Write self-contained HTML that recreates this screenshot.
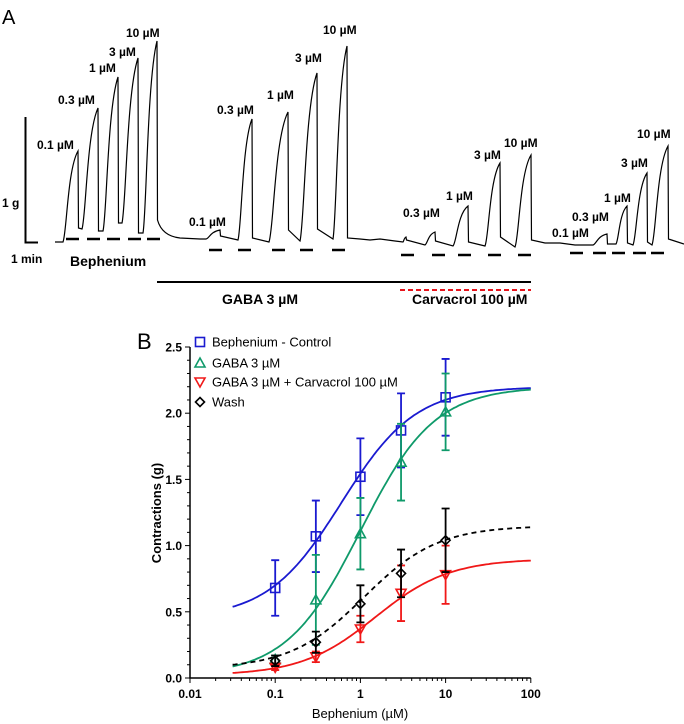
<!DOCTYPE html>
<html><head><meta charset="utf-8"><style>
body{margin:0;background:#fff}
svg{display:block;font-family:"Liberation Sans",Arial,sans-serif}
.lb{font-weight:bold;font-size:12px}
</style></head><body>
<svg id="fig" width="684" height="724" viewBox="0 0 684 724">
<g id="panelA">
<text x="2" y="24" font-size="20">A</text>
<path d="M25.5 117V242.5H38" stroke="#000" stroke-width="2" fill="none"/>
<text x="2" y="207" class="lb" font-size="13">1 g</text>
<text x="11" y="263" class="lb">1 min</text>
<text x="70" y="266" font-weight="bold" font-size="14">Bephenium</text>
<line x1="157" y1="282" x2="531" y2="282" stroke="#000" stroke-width="2"/>
<line x1="400" y1="290" x2="531" y2="290" stroke="#e8141c" stroke-width="2" stroke-dasharray="5,3"/>
<text x="222" y="304" font-weight="bold" font-size="14">GABA 3 µM</text>
<text x="412" y="304" font-weight="bold" font-size="14">Carvacrol 100 µM</text>
</g>
<g id="panelB">
<text x="137" y="349" font-size="22">B</text>
</g>
</svg>
<script>
const peakStartX=[63,82,103,122,143, 206,238,269,300,333, 403,425,453,485,515, 593,616,633,652];
const peakStartY=[242,229,231,223,233, 239,240,242,241,239, 242,245,246,246,247, 245,244,245,245];
const peakX=[78,98,118,138,157, 220,252,288,317,347, 406,435,468,500,531, 607,627,647,668];
const peakY=[151,108,77,58,41, 230,119,112,73,46, 237,232,206,163,155, 234,206,173,146];
const dropY=[228,231,223,233,220, 236,238,230,229,238, 240,241,242,237,240, 244,243,242,239];
const labelText=["0.1 µM","0.3 µM","1 µM","3 µM","10 µM","0.1 µM","0.3 µM","1 µM","3 µM","10 µM","0.3 µM","1 µM","3 µM","10 µM","0.1 µM","0.3 µM","1 µM","3 µM","10 µM"];
const labelX=[37,58,89,109,126, 189,217,267,295,323, 403,446,474,504, 552,572,604,621,637];
const labelY=[149,104,72,56,37, 226,114,99,62,34, 217,200,159,147, 237,221,202,167,138];
const dashX=[66,87,107,128,147, 209,238,272,300,332, 401,432,458,488,518, 570,593,612,633,651];
const dashY=[239,239,239,239,239, 250,250,250,250,250, 255,255,255,255,255, 253,253,253,253,253];
const NS="http://www.w3.org/2000/svg";
function mk(tag,attrs,parent){const e=document.createElementNS(NS,tag);for(const k in attrs)e.setAttribute(k,attrs[k]);parent.appendChild(e);return e;}
const A=document.getElementById('panelA');
let d="M55 242 L63 242";
for(let i=0;i<peakX.length;i++){
  const x0=peakStartX[i],y0=peakStartY[i],xp=peakX[i],yp=peakY[i],dx=xp-x0,dy=y0-yp;
  if(i>0){d+=` L${x0} ${y0}`;}
  d+=` C${x0+0.25*dx} ${y0-0.1*dy} ${x0+0.3*dx} ${yp+0.2*dy} ${xp} ${yp}`;
  d+=` L${xp+0.5} ${dropY[i]}`;
  if(i==4){d+=" Q162 236 180 238 L200 239";}
  if(i==9){d+=" L360 239 L370 240 L380 239 L395 241";}
  if(i==14){d+=" L545 243 L560 243 L575 245 L593 245";}
}
d+=" L684 244";
const tr=mk('path',{d:d,stroke:'#000','stroke-width':1.2,fill:'none'},A);


for(let i=0;i<labelText.length;i++){
  const t=mk('text',{x:labelX[i],y:labelY[i],class:'lb'},A);t.textContent=labelText[i];
  
  
}
for(let i=0;i<dashX.length;i++){
  const l=mk('line',{x1:dashX[i],x2:dashX[i]+13,y1:dashY[i],y2:dashY[i],stroke:'#000','stroke-width':2.5},A);
  
  
}
const conc=[0.1,0.3,1,3,10];
const ctrlMean=[0.68,1.07,1.52,1.87,2.12];
const ctrlErr=[0.21,0.27,0.29,0.28,0.29];
const gabaMean=[0.14,0.59,1.09,1.63,2.01];
const gabaErr=[0.03,0.34,0.27,0.29,0.29];
const carvMean=[0.08,0.16,0.37,0.64,0.78];
const carvErr=[0.02,0.04,0.10,0.21,0.22];
const washMean=[0.13,0.27,0.56,0.79,1.04];
const washErr=[0.04,0.08,0.14,0.18,0.24];
const fitCtrl=[0.45,2.2,0.6,1];
const fitGaba=[0.02,2.2,1.0,1];
const fitCarv=[0.02,0.9,1.5,1];
const fitWash=[0.07,1.15,1.1,1];
const xTicks=["0.01","0.1","1","10","100"];
const yTicks=["0.0","0.5","1.0","1.5","2.0","2.5"];
const X0=190,DEC=85.2,Y0=678,YS=132.4;
const xs=v=>X0+(Math.log10(v)+2)*DEC;
const ys=v=>Y0-v*YS;
const B=document.getElementById('panelB');
const ax=mk('path',{d:`M${X0} ${ys(2.5)}V${Y0}H${xs(100)}`,stroke:'#000','stroke-width':1.5,fill:'none'},B);


for(let k=0;k<=25;k++){
  const y=ys(k/10),maj=k%5==0;
  const tk=mk('line',{x1:X0-(maj?5:3),x2:X0,y1:y,y2:y,stroke:'#000','stroke-width':1},B);
  
  
}
yTicks.forEach((s,i)=>{const t=mk('text',{x:X0-8,y:ys(parseFloat(s))+4.5,class:'lb','text-anchor':'end'},B);t.textContent=s;
  
  });
for(let e=-2;e<2;e++){for(let m=1;m<10;m++){const x=xs(m*Math.pow(10,e));
  const tk=mk('line',{x1:x,x2:x,y1:Y0,y2:Y0+(m==1?5:3),stroke:'#000','stroke-width':1},B);
  
  }}
mk('line',{x1:xs(100),x2:xs(100),y1:Y0,y2:Y0+5,stroke:'#000'},B);
xTicks.forEach(s=>{const t=mk('text',{x:xs(parseFloat(s)),y:Y0+20,class:'lb','text-anchor':'middle'},B);t.textContent=s;
  
  });
const xt=mk('text',{x:360,y:718,'font-size':13,'text-anchor':'middle'},B);xt.textContent='Bephenium (µM)';


const yt=mk('text',{x:0,y:0,'font-size':13,'font-weight':'bold','text-anchor':'middle',transform:'translate(161,513) rotate(-90)'},B);yt.textContent='Contractions (g)';


const series=[
 {n:'control',c:'#1a1ad0',m:ctrlMean,e:ctrlErr,f:fitCtrl,sym:'sq',dash:''},
 {n:'gaba',c:'#0f9a6a',m:gabaMean,e:gabaErr,f:fitGaba,sym:'up',dash:''},
 {n:'carvacrol',c:'#f01818',m:carvMean,e:carvErr,f:fitCarv,sym:'dn',dash:''},
 {n:'wash',c:'#000',m:washMean,e:washErr,f:fitWash,sym:'di',dash:'5,4'}];
function sym(kind,x,y,c,parent){
  let el;
  if(kind=='sq')el=mk('rect',{x:x-4.5,y:y-4.5,width:9,height:9},parent);
  else if(kind=='up')el=mk('path',{d:`M${x} ${y-5}L${x+5} ${y+4}L${x-5} ${y+4}Z`},parent);
  else if(kind=='dn')el=mk('path',{d:`M${x} ${y+5}L${x+5} ${y-4}L${x-5} ${y-4}Z`},parent);
  else el=mk('path',{d:`M${x} ${y-4.5}L${x+4.5} ${y}L${x} ${y+4.5}L${x-4.5} ${y}Z`},parent);
  el.setAttribute('fill','none');el.setAttribute('stroke',c);el.setAttribute('stroke-width',1.6);
  return el;
}
series.forEach(s=>{
  const g=mk('g',{},B);
  
  
  conc.forEach((x,i)=>{
    const px=xs(x),hi=ys(s.m[i]+s.e[i]),lo=ys(s.m[i]-s.e[i]);
    const eb=mk('path',{d:`M${px} ${hi}V${lo}M${px-4} ${hi}H${px+4}M${px-4} ${lo}H${px+4}`,stroke:s.c,'stroke-width':1.8,fill:'none'},g);
    
    
  });
  let p='';
  for(let k=0;k<=120;k++){const lx=-1.5+k*3.5/120,x=Math.pow(10,lx);
    const [b,t,ec,h]=s.f;const v=b+(t-b)/(1+Math.pow(ec/x,h));
    p+=(k?'L':'M')+xs(x).toFixed(1)+' '+ys(v).toFixed(1);}
  const cv=mk('path',{d:p,stroke:s.c,'stroke-width':1.8,fill:'none','stroke-dasharray':s.dash},g);
  
  
  conc.forEach((x,i)=>{const m=sym(s.sym,xs(x),ys(s.m[i]),s.c,g);
    
    });
});
const legNames=['Bephenium - Control','GABA 3 µM','GABA 3 µM + Carvacrol 100 µM','Wash'];
const legY=[342,363,382,402];
series.forEach((s,i)=>{
  const g=mk('g',{},B);
  
  
  sym(s.sym,200,legY[i],s.c,g);
  const t=mk('text',{x:212,y:legY[i]+4.5,'font-size':13},g);t.textContent=legNames[i];
});
</script>
</body></html>
